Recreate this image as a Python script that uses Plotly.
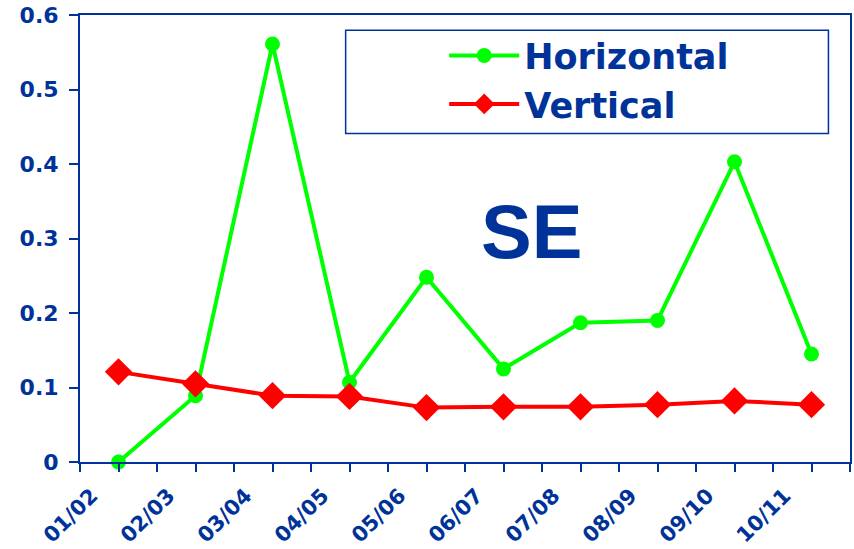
import plotly.graph_objects as go

seasons = ["01/02", "02/03", "03/04", "04/05", "05/06",
           "06/07", "07/08", "08/09", "09/10", "10/11"]
horizontal = [0.0, 0.089, 0.561, 0.107, 0.248, 0.125, 0.187, 0.190, 0.403, 0.145]
vertical = [0.121, 0.105, 0.089, 0.088, 0.073, 0.074, 0.074, 0.077, 0.082, 0.077]
y_ticks = [0, 0.1, 0.2, 0.3, 0.4, 0.5, 0.6]
y_labels = ["0", "0.1", "0.2", "0.3", "0.4", "0.5", "0.6"]

BLUE = "#003399"
WIDE = "DejaVu Sans, Verdana, sans-serif"
FONT = "Arial, Liberation Sans, sans-serif"

# categories sit at 1..10; labels shifted left like the original
pos = list(range(1, len(seasons) + 1))
label_pos = [p - 0.35 for p in pos]

fig = go.Figure()
fig.add_trace(go.Scatter(
    x=pos, y=horizontal, name="Horizontal", mode="lines+markers",
    line=dict(color="#00ff00", width=4),
    marker=dict(symbol="circle", size=15, color="#00ff00"),
    cliponaxis=False,
))
fig.add_trace(go.Scatter(
    x=pos, y=vertical, name="Vertical", mode="lines+markers",
    line=dict(color="#ff0000", width=4),
    marker=dict(symbol="diamond", size=21, color="#ff0000"),
    cliponaxis=False,
))

fig.update_layout(
    width=854, height=549,
    margin=dict(l=80, r=2, t=15, b=87),
    plot_bgcolor="white", paper_bgcolor="white",
    font=dict(family=FONT, color=BLUE),
    legend=dict(
        x=0.473, y=0.975, xanchor="left", yanchor="top",
        bgcolor="rgba(0,0,0,0)", borderwidth=0,
        font=dict(size=35, family=WIDE, color=BLUE, weight="bold"),
        itemwidth=70,
    ),
    shapes=[dict(
        type="rect", xref="paper", yref="paper",
        x0=0.345, x1=0.972, y0=0.735, y1=0.966,
        line=dict(color=BLUE, width=1.5), fillcolor="rgba(0,0,0,0)",
        layer="below",
    )],
    annotations=[dict(
        text="<b>SE</b>", x=6.37, y=0.31, xref="x", yref="y",
        showarrow=False, font=dict(size=76, family=FONT, color=BLUE),
    )],
)

fig.update_xaxes(
    range=[0.5, 10.5],
    tickmode="array", tickvals=label_pos, ticktext=seasons,
    tickangle=-45, ticks="", showgrid=False, zeroline=False,
    showline=True, linecolor=BLUE, linewidth=2, mirror=True,
    ticklabelstandoff=11,
    tickfont=dict(size=21, family=WIDE, color=BLUE, weight="bold"),
    minor=dict(ticks="outside", tick0=0.5, dtick=0.5, ticklen=8,
               tickcolor=BLUE, tickwidth=2, showgrid=False),
)
fig.update_yaxes(
    range=[0, 0.6],
    tickmode="array", tickvals=y_ticks, ticktext=y_labels,
    ticks="outside", ticklen=9, tickcolor=BLUE, tickwidth=2,
    showgrid=False, zeroline=False,
    showline=True, linecolor=BLUE, linewidth=2, mirror=True,
    ticklabelstandoff=6, ticklabeloverflow="allow",
    tickfont=dict(size=22, family=WIDE, color=BLUE, weight="bold"),
)

# drop the default body margin so the figure fills the window exactly
fig.write_html("out.html", config={"displayModeBar": False},
               post_script="document.body.style.margin='0';")
